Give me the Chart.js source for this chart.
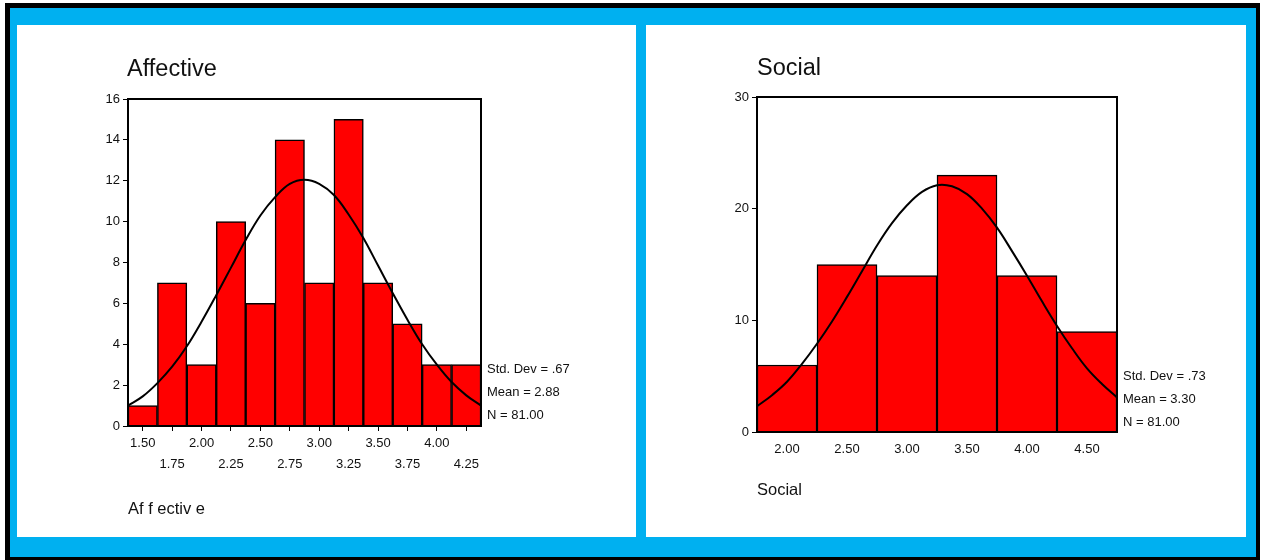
<!DOCTYPE html>
<html>
<head>
<meta charset="utf-8">
<script src="https://cdn.jsdelivr.net/npm/chart.js@4"></script>
<style>
  html, body { margin: 0; padding: 0; background: #fff; }
  body { width: 1264px; height: 560px; position: relative; overflow: hidden;
         font-family: "Liberation Sans", Arial, sans-serif; color: #111; }
  #frame { position: absolute; left: 5px; top: 3px; width: 1255px; height: 560px; background: #000; }
  #blue { position: absolute; left: 10px; top: 8px; width: 1246px; height: 549px; background: #00B0F0; }
  .panel { position: absolute; top: 25px; height: 512px; background: #fff; }
  #leftPanel { left: 17px; width: 619px; }
  #rightPanel { left: 646px; width: 600px; }
  .panel canvas { position: absolute; left: 0; top: 0; }
  .title { position: absolute; font-size: 23.5px; line-height: 1; }
  .axisTitle { position: absolute; font-size: 16.5px; line-height: 1; }
  .stats { position: absolute; font-size: 13px; line-height: 23px; white-space: nowrap; }
</style>
</head>
<body>
<div id="frame"></div>
<div id="blue"></div>

<div class="panel" id="leftPanel">
  <canvas id="affChart" width="619" height="512"></canvas>
  <div class="title" style="left:110px; top:32px;">Affective</div>
  <div class="stats" style="left:470px; top:332px;">Std. Dev = .67<br>Mean = 2.88<br>N = 81.00</div>
  <div class="axisTitle" style="left:111px; top:475px;">Af f ectiv e</div>
</div>

<div class="panel" id="rightPanel">
  <canvas id="socChart" width="600" height="512"></canvas>
  <div class="title" style="left:111px; top:31px;">Social</div>
  <div class="stats" style="left:477px; top:339px;">Std. Dev = .73<br>Mean = 3.30<br>N = 81.00</div>
  <div class="axisTitle" style="left:111px; top:456px;">Social</div>
</div>

<script>
// Affective histogram
const affBins = ['1.50', '1.75', '2.00', '2.25', '2.50', '2.75', '3.00', '3.25', '3.50', '3.75', '4.00', '4.25'];
const affCounts = [1, 7, 3, 10, 6, 14, 7, 15, 7, 5, 3, 3];
const affRange = [1.375, 4.375];
const affYMax = 16;
const affYStep = 2;
// normal curve
const affCurveX = [1.375, 1.5, 1.625, 1.75, 1.875, 2.0, 2.125, 2.25, 2.375, 2.5, 2.625, 2.75, 2.875,
                   3.0, 3.125, 3.25, 3.375, 3.5, 3.625, 3.75, 3.875, 4.0, 4.125, 4.25, 4.375];
const affCurveY = [1.0, 1.45, 2.1, 2.9, 3.9, 5.1, 6.4, 7.75, 9.1, 10.3, 11.2, 11.85, 12.05,
                   11.85, 11.3, 10.35, 9.2, 7.85, 6.5, 5.2, 4.0, 3.0, 2.15, 1.5, 1.0];

// Social histogram
const socBins = ['2.00', '2.50', '3.00', '3.50', '4.00', '4.50'];
const socCounts = [6, 15, 14, 23, 14, 9];
const socRange = [1.75, 4.75];
const socYMax = 30;
const socYStep = 10;
const socCurveX = [1.75, 1.875, 2.0, 2.125, 2.25, 2.375, 2.5, 2.625, 2.75, 2.875, 3.0, 3.125, 3.25,
                   3.375, 3.5, 3.625, 3.75, 3.875, 4.0, 4.125, 4.25, 4.375, 4.5, 4.625, 4.75];
const socCurveY = [2.3, 3.3, 4.5, 6.1, 7.9, 9.9, 12.1, 14.4, 16.7, 18.7, 20.3, 21.5, 22.1,
                   22.0, 21.3, 20.0, 18.3, 16.2, 14.0, 11.7, 9.5, 7.5, 5.7, 4.3, 3.1];

Chart.defaults.font.family = '"Liberation Sans", Arial, sans-serif';
Chart.defaults.font.size = 13;
Chart.defaults.color = '#111';

// box around the plot area
const plotFrame = {
    id: 'plotFrame',
    afterDatasetsDraw(chart) {
        const a = chart.chartArea;
        const ctx = chart.ctx;
        ctx.save();
        ctx.strokeStyle = '#000';
        ctx.lineWidth = 2;
        ctx.strokeRect(a.left, a.top, a.right - a.left, a.bottom - a.top);
        ctx.restore();
    }
};

function makeHistogram(id, bins, counts, range, yMax, yStep, curveX, curveY, opts) {
    const curve = curveX.map((x, i) => ({ x: x, y: curveY[i] }));
    return new Chart(document.getElementById(id), {
        type: 'bar',
        data: {
            labels: bins,
            datasets: [{
                type: 'line',
                data: curve,
                xAxisID: 'x2',
                borderColor: '#000',
                borderWidth: 2,
                pointRadius: 0,
                tension: 0.4,
                fill: false,
                order: 0
            }, {
                data: counts,
                xAxisID: 'x',
                backgroundColor: '#FF0000',
                borderColor: '#000',
                borderWidth: 1.5,
                barPercentage: 1,
                categoryPercentage: 1,
                grouped: false,
                order: 1
            }]
        },
        options: {
            responsive: false,
            animation: false,
            events: [],
            layout: { padding: opts.padding },
            plugins: {
                legend: { display: false },
                tooltip: { enabled: false }
            },
            scales: {
                x: {
                    type: 'category',
                    offset: true,
                    afterFit: function(scale) { scale.height = 50; },
                    grid: {
                        display: opts.xTicks,
                        drawOnChartArea: false,
                        offset: false,
                        tickLength: 5,
                        color: '#000'
                    },
                    border: { display: true, color: '#000', width: 2 },
                    ticks: {
                        maxRotation: 0,
                        autoSkip: false,
                        padding: opts.xPad,
                        font: { size: 13, lineHeight: 1.6 },
                        callback: opts.xLabel
                    }
                },
                x2: {
                    type: 'linear',
                    display: false,
                    offset: false,
                    min: range[0],
                    max: range[1]
                },
                y: {
                    min: 0,
                    max: yMax,
                    afterFit: function(scale) { scale.width = 40; },
                    grid: {
                        drawOnChartArea: false,
                        tickLength: 5,
                        color: '#000'
                    },
                    border: { display: true, color: '#000', width: 2 },
                    ticks: { stepSize: yStep, padding: 3, font: { size: 13 } }
                }
            }
        },
        plugins: [plotFrame]
    });
}

// Affective: labels alternate between two rows
makeHistogram('affChart', affBins, affCounts, affRange, affYMax, affYStep, affCurveX, affCurveY, {
    padding: { left: 71, right: 155, top: 74, bottom: 61 },
    xTicks: true,
    xPad: 2,
    xLabel: function(value, index) {
        const label = this.getLabelForValue(value);
        return index % 2 === 0 ? [label, ''] : ['', label];
    }
});

makeHistogram('socChart', socBins, socCounts, socRange, socYMax, socYStep, socCurveX, socCurveY, {
    padding: { left: 71, right: 129, top: 72, bottom: 55 },
    xTicks: false,
    xPad: 2,
    xLabel: function(value) { return this.getLabelForValue(value); }
});
</script>
</body>
</html>
